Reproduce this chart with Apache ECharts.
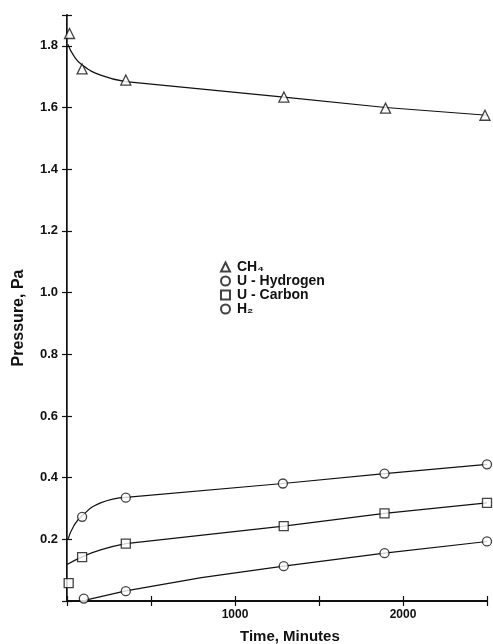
<!DOCTYPE html>
<html>
<head>
<meta charset="utf-8">
<script src="https://cdn.jsdelivr.net/npm/echarts@6/dist/echarts.min.js"></script>
<style>
html,body{margin:0;padding:0;background:#fff;}
#c{width:493px;height:644px;}
</style>
</head>
<body>
<div id="c"></div>
<script>
// ---- data ----
const xTicks = [0, 500, 1000, 1500, 2000, 2500];
const xLabels = ['1000', '2000'];
const yLabels = ['0.2', '0.4', '0.6', '0.8', '1.0', '1.2', '1.4', '1.6', '1.8'];
const xTitle = 'Time, Minutes';
const yTitle = 'Pressure, Pa';

const seriesNames = ['CH\u2084', 'U - Hydrogen', 'U - Carbon', 'H\u2082'];

// measured points
const ch4X = [15, 90, 350, 1291, 1896, 2488];
const ch4Y = [1.84, 1.725, 1.689, 1.634, 1.598, 1.575];
const uhX = [90, 350, 1285, 1890, 2500];
const uhY = [0.273, 0.335, 0.381, 0.413, 0.443];
const ucX = [10, 90, 350, 1290, 1890, 2500];
const ucY = [0.058, 0.142, 0.186, 0.243, 0.284, 0.318];
const h2X = [100, 350, 1290, 1890, 2500];
const h2Y = [0.008, 0.032, 0.113, 0.155, 0.193];

// hand-drawn fit curves: curved head + straight tail
const ch4HeadX = [5, 40, 90, 200, 350];
const ch4HeadY = [1.805, 1.768, 1.738, 1.705, 1.684];
const ch4TailX = [350, 1291, 1896, 2500];
const ch4TailY = [1.684, 1.634, 1.600, 1.575];
const uhHeadX = [5, 40, 90, 200, 350];
const uhHeadY = [0.198, 0.243, 0.277, 0.318, 0.336];
const uhTailX = [350, 1285, 1890, 2500];
const uhTailY = [0.336, 0.381, 0.413, 0.443];
const ucHeadX = [0, 90, 200, 350];
const ucHeadY = [0.118, 0.143, 0.166, 0.186];
const ucTailX = [350, 1290, 1890, 2500];
const ucTailY = [0.186, 0.243, 0.284, 0.318];
const h2LineX = [110, 350, 800, 1290, 1890, 2500];
const h2LineY = [0.003, 0.033, 0.076, 0.113, 0.155, 0.193];

const zip = (a, b) => a.map((v, i) => [v, b[i]]);

const FONT = '"Liberation Sans", Arial, sans-serif';
const txt = {color: '#111', fontFamily: FONT, fontWeight: 'bold', fontSize: 13};

const markerStyle = {color: '#fff', borderColor: '#111', borderWidth: 1.3};
const lineStyle = {color: '#111', width: 1.2};

function curve(name, x, y, smooth) {
  return {
    type: 'line', name: name, data: zip(x, y), smooth: smooth,
    showSymbol: false, symbol: 'none', lineStyle: lineStyle, silent: true, z: 2
  };
}
function pts(name, x, y, sym, size) {
  return {
    type: 'scatter', name: name, data: zip(x, y), symbol: sym, symbolSize: size,
    itemStyle: markerStyle, z: 5
  };
}

const chart = echarts.init(document.getElementById('c'), null, {renderer: 'canvas'});
chart.setOption({
  backgroundColor: '#fff',
  animation: false,
  grid: {left: 67, right: 6, top: 15, bottom: 43},
  legend: {
    data: seriesNames,
    orient: 'vertical', left: 215, top: 255,
    itemWidth: 9, itemHeight: 9, itemGap: 0,
    textStyle: Object.assign({}, txt, {fontSize: 14, lineHeight: 14, padding: [0, 0, 0, 2]}),
    selectedMode: false
  },
  graphic: [
    {type: 'text', left: 240, top: 629, style: Object.assign({text: xTitle, fill: '#111', font: 'bold 15px ' + FONT})},
    {type: 'text', x: 19, y: 318, rotation: Math.PI / 2,
     style: {text: yTitle, fill: '#111', font: 'bold 16px ' + FONT, align: 'center', verticalAlign: 'middle'}}
  ],
  xAxis: [{
    type: 'value', min: xTicks[0], max: xTicks[xTicks.length - 1], interval: 500,
    axisLine: {lineStyle: {color: '#111', width: 2}},
    axisTick: {inside: true, length: 5, lineStyle: {color: '#111', width: 1.2}},
    axisLabel: Object.assign({}, txt, {fontSize: 12, margin: 8, formatter: v => xLabels.includes(String(v)) ? String(v) : ''}),
    splitLine: {show: false}
  }, {
    type: 'value', position: 'top', min: xTicks[0], max: xTicks[xTicks.length - 1], interval: 500,
    axisLine: {show: true, lineStyle: {color: '#111', width: 2}},
    axisTick: {inside: true, length: 5, lineStyle: {color: '#111', width: 1.2}},
    axisLabel: {show: false}, splitLine: {show: false}
  }],
  yAxis: [{
    type: 'value', min: 0, max: 1.9, interval: 0.2,
    axisLine: {show: true, lineStyle: {color: '#111', width: 2}},
    axisTick: {inside: true, length: 5, lineStyle: {color: '#111', width: 1.2}},
    axisLabel: Object.assign({}, txt, {margin: 9, formatter: v => {
      const s = (+v).toFixed(1); return yLabels.includes(s) ? s : '';
    }}),
    splitLine: {show: false}
  }, {
    type: 'value', position: 'right', min: 0, max: 1.9, interval: 0.2,
    axisLine: {show: true, lineStyle: {color: '#555', width: 1}},
    axisTick: {inside: true, length: 5, lineStyle: {color: '#111', width: 1.2}},
    axisLabel: {show: false}, splitLine: {show: false}
  }],
  series: [
    curve('ch4 head', ch4HeadX, ch4HeadY, 0.5),
    curve('ch4 tail', ch4TailX, ch4TailY, false),
    curve('uh head', uhHeadX, uhHeadY, 0.5),
    curve('uh tail', uhTailX, uhTailY, false),
    curve('uc head', ucHeadX, ucHeadY, 0.5),
    curve('uc tail', ucTailX, ucTailY, false),
    curve('h2 line', h2LineX, h2LineY, false),
    pts(seriesNames[0], ch4X, ch4Y, 'triangle', 10),
    pts(seriesNames[1], uhX, uhY, 'circle', 9),
    pts(seriesNames[2], ucX, ucY, 'rect', 9),
    pts(seriesNames[3], h2X, h2Y, 'circle', 9)
  ]
});
</script>
</body>
</html>
